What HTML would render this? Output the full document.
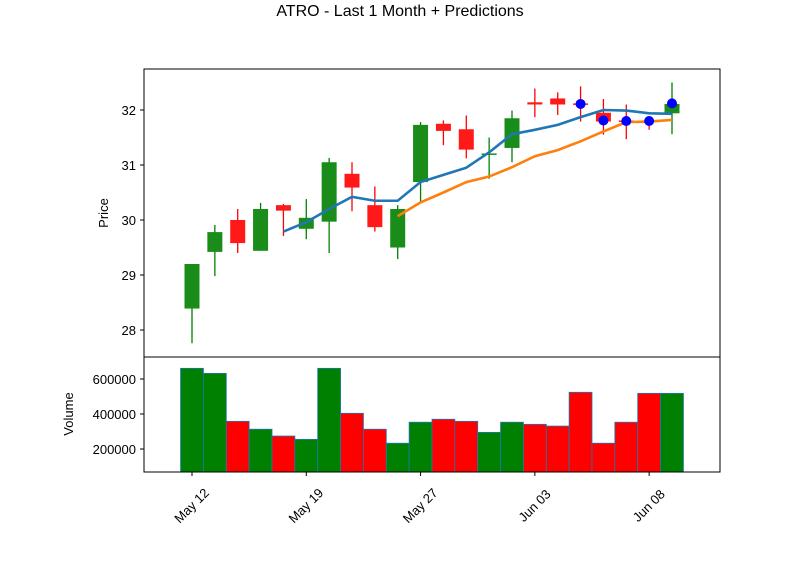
<!DOCTYPE html>
<html><head><meta charset="utf-8">
<style>
body{margin:0;background:#fff;}
svg{display:block;font-family:"Liberation Sans","DejaVu Sans",sans-serif;}
</style></head>
<body>
<svg id="chart" width="800" height="575" viewBox="0 0 800 575" xmlns="http://www.w3.org/2000/svg">
<rect width="800" height="575" fill="#fff"/>
<text x="400" y="16" text-anchor="middle" font-size="16">ATRO - Last 1 Month + Predictions</text>
<text x="108" y="213" text-anchor="middle" font-size="13" transform="rotate(-90 108 213)">Price</text>
<text x="73" y="414" text-anchor="middle" font-size="13" transform="rotate(-90 73 414)">Volume</text>
<g id="price"></g>
<g id="vol"></g>
<rect x="144" y="69" width="576" height="288" fill="none" stroke="#000" stroke-width="1"/>
<rect x="144" y="357" width="576" height="115" fill="none" stroke="#000" stroke-width="1"/>
<g id="axes"></g>
</svg>
<script>
const dateLabels = ["May 12","May 19","May 27","Jun 03","Jun 08"];
const dateTickIdx = [0,5,10,15,20];
const opens  = [28.39,29.42,30.0,29.44,30.27,29.84,29.97,30.84,30.27,29.5,30.69,31.75,31.65,31.19,31.31,32.14,32.21,32.12,31.95,31.81,31.81,31.94];
const closes = [29.2,29.78,29.58,30.2,30.17,30.04,31.05,30.59,29.87,30.2,31.73,31.62,31.28,31.21,31.85,32.1,32.1,32.1,31.79,31.79,31.79,32.11];
const highs  = [29.2,29.91,30.2,30.31,30.29,30.38,31.13,31.05,30.61,30.27,31.78,31.81,31.9,31.5,31.99,32.39,32.32,32.43,32.2,32.1,31.89,32.5];
const lows   = [27.76,28.98,29.4,29.44,29.71,29.65,29.4,30.16,29.79,29.29,30.32,31.36,31.12,30.75,31.05,31.87,31.91,31.79,31.55,31.47,31.64,31.56];
const ma5    = [null,null,null,null,29.79,29.96,30.2,30.42,30.35,30.35,30.69,30.82,30.95,31.23,31.56,31.64,31.73,31.87,32.0,31.99,31.94,31.93];
const ma10   = [null,null,null,null,null,null,null,null,null,30.07,30.32,30.5,30.69,30.79,30.96,31.16,31.27,31.43,31.61,31.78,31.79,31.82];
const predIdx = [17,18,19,20,21];
const predVals = [32.11,31.81,31.8,31.8,32.12];
const volumes = [661000,632000,358000,313000,274000,255000,661000,404000,313000,233000,353000,370000,358000,295000,353000,341000,331000,524000,233000,353000,518000,518000];
const volUp = [1,1,0,1,0,1,1,0,0,1,1,0,0,1,1,0,0,0,0,0,0,1];
const priceTicks = [28,29,30,31,32];
const volTicks = [200000,400000,600000];

const NS="http://www.w3.org/2000/svg";
const X = i => 192 + i*22.857;
const YP = p => 330 - (p-28)*55;
const YV = v => 449 - (v-200000)*35/200000;
function mk(tag, attrs, parent){const e=document.createElementNS(NS,tag);for(const k in attrs)e.setAttribute(k,attrs[k]);parent.appendChild(e);return e;}
const gP=document.getElementById('price'), gV=document.getElementById('vol'), gA=document.getElementById('axes');
const bw=15;
for(let i=0;i<opens.length;i++){
  const up=closes[i]>=opens[i];
  const wc=up?'#008000':'#ff0000', fc=up?'rgb(25,140,25)':'rgb(255,25,25)';
  const w=mk('line',{x1:X(i),x2:X(i),y1:YP(highs[i]),y2:YP(lows[i]),stroke:wc,'stroke-width':1.3},gP);
  
  
  const t=YP(Math.max(opens[i],closes[i])), b=YP(Math.min(opens[i],closes[i]));
  const r=mk('rect',{x:X(i)-bw/2,y:t,width:bw,height:Math.max(b-t,1.5),fill:fc},gP);
  
  
}
function line(arr,color,name){
  let d='';arr.forEach((v,i)=>{if(v!=null)d+=(d?'L':'M')+X(i)+' '+YP(v);});
  const p=mk('path',{d:d,fill:'none',stroke:color,'stroke-width':2.6},gP);
  
  
}
line(ma5,'#1f77b4','ma5-line');
line(ma10,'#ff7f0e','ma10-line');
predIdx.forEach((ix,k)=>{
  const c=mk('circle',{cx:X(ix),cy:YP(predVals[k]),r:5,fill:'#0000ff'},gP);
  
  
});
volumes.forEach((v,i)=>{
  const r=mk('rect',{x:X(i)-11.43,y:YV(v),width:22.86,height:472-YV(v),fill:volUp[i]?'#008000':'#ff0000',stroke:'#1f77b4','stroke-width':0.8},gV);
  
  
});
priceTicks.forEach(p=>{
  mk('line',{x1:140,x2:144,y1:YP(p),y2:YP(p),stroke:'#000'},gA);
  const t=mk('text',{x:136,y:YP(p)+5,'text-anchor':'end','font-size':13},gA);
  t.textContent=p;
  
  
});
volTicks.forEach(v=>{
  mk('line',{x1:140,x2:144,y1:YV(v),y2:YV(v),stroke:'#000'},gA);
  const t=mk('text',{x:136,y:YV(v)+5,'text-anchor':'end','font-size':13},gA);
  t.textContent=v;
  
  
});
dateTickIdx.forEach((ix,k)=>{
  mk('line',{x1:X(ix),x2:X(ix),y1:472,y2:476,stroke:'#000'},gA);
  const cx=X(ix), cy=506;
  const t=mk('text',{x:cx,y:cy+4,'text-anchor':'middle','font-size':13,transform:`rotate(-45 ${cx} ${cy})`},gA);
  t.textContent=dateLabels[k];
  
  
});
</script>
</body></html>
